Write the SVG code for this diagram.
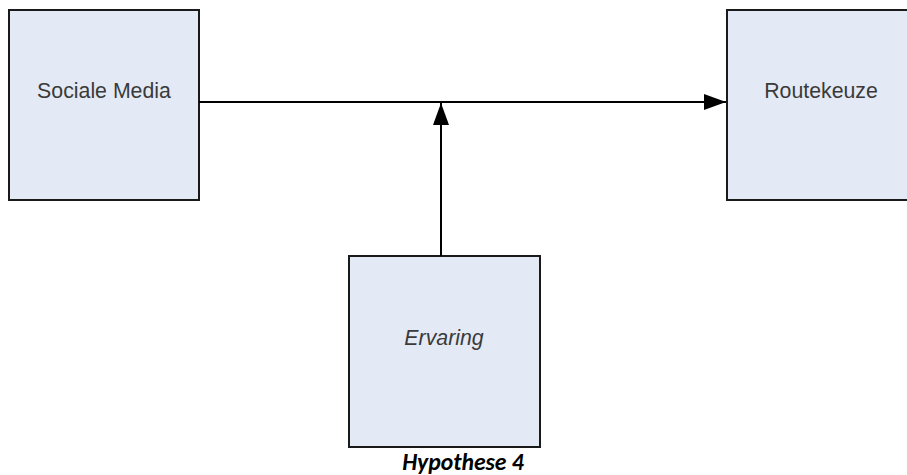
<svg xmlns="http://www.w3.org/2000/svg" width="907" height="475" viewBox="0 0 907 475">
<style>
.box{fill:#e4eaf5;stroke:#1a1a1a;stroke-width:2}
.lbl{font-family:"Liberation Sans",Arial,sans-serif;font-size:21.3px;fill:#3a3a3a;text-anchor:middle}
.conn{stroke:#000;stroke-width:2;fill:none}
</style>
<defs>
<marker id="arr" markerUnits="userSpaceOnUse" markerWidth="22" markerHeight="16" refX="22" refY="8" orient="auto">
<path d="M0,0 L22,8 L0,16 Z" fill="#000"/>
</marker>
</defs>
<rect width="907" height="475" fill="#fff"/>
<g id="sociale-media">
<rect class="box" x="9" y="10" width="190" height="190"/>
<text class="lbl" x="104" y="98">Sociale Media</text>
</g>
<g id="routekeuze">
<rect class="box" x="727" y="10" width="195" height="190"/>
<text class="lbl" x="821" y="98">Routekeuze</text>
</g>
<g id="ervaring">
<rect class="box" x="349" y="256" width="191" height="191"/>
<text class="lbl" x="444" y="345" font-style="italic">Ervaring</text>
</g>
<g id="connectors">
<line class="conn" x1="199" y1="102" x2="726" y2="102" marker-end="url(#arr)"/>
<line class="conn" x1="441" y1="256" x2="441" y2="103" marker-end="url(#arr)"/>
</g>
<text x="463" y="470" font-family="Carlito,'Liberation Sans',Arial,sans-serif" font-size="23.7" font-weight="bold" font-style="italic" text-anchor="middle" fill="#000">Hypothese 4</text>
</svg>
